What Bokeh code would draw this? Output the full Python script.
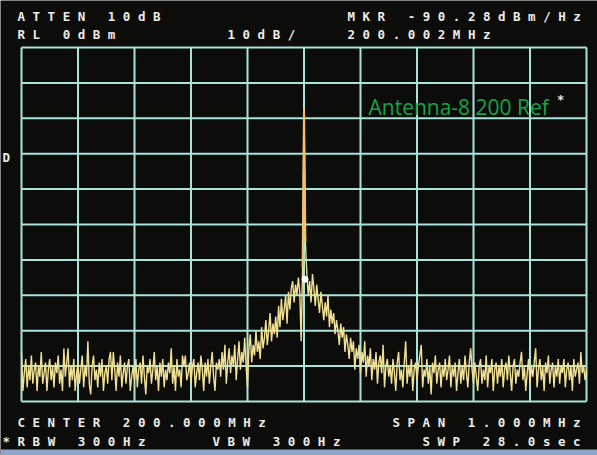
import numpy as np
from bokeh.plotting import figure
from bokeh.models import Range1d, Label
from bokeh.embed import file_html
from bokeh.resources import INLINE

# ---------------------------------------------------------------- data
# Sweep: 401 points, center 200.000 MHz, span 1.000 MHz (offsets in kHz)
center_mhz = 200.000
span_khz = 1000.0
n_points = 401
freq_khz = np.linspace(-span_khz / 2, span_khz / 2, n_points)

# Trace levels in dBm, left to right
floor_left = [
    -86, -97, -92, -88, -96, -90, -94, -87, -95, -91, -89, -97, -90, -93, -86, -95, -92, -89, -97, -91,
    -88, -94, -90, -96, -89, -92, -87, -95, -91, -97, -85, -93, -89, -85, -96, -90, -94, -88, -97, -92,
    -89, -95, -91, -87, -96, -90, -93, -83, -95, -98, -90, -87, -94, -91, -96, -89, -93, -88, -97, -92,
    -90, -95, -88, -86, -94, -86, -91, -97, -89, -93, -87, -96, -92, -89, -95, -90, -88, -97, -93, -90,
    -94, -88, -96, -91, -89, -95, -87, -93, -98, -90, -92, -88, -95, -91, -86, -94, -90, -97, -89, -93,
    -88, -96, -91, -94, -89, -92, -85, -95, -90, -97, -88, -93, -91, -96, -87, -90, -87, -94, -92, -89,
    -95, -90, -88, -96, -92, -89, -94, -87, -91, -97, -89, -93, -88, -95, -90, -86, -93, -97, -89, -91,
]
skirt_left = [
    -88, -93, -86, -91, -84, -95, -89, -85, -92, -87,
    -90, -84, -94, -88, -83, -91, -86, -89, -82, -90,
    -96, -85, -81, -89, -84, -87, -80, -86, -83, -88,
    -79, -85, -82, -77, -84, -80, -75, -83, -78, -81,
    -76, -82, -73, -79, -71, -77, -74, -70, -78, -69,
    -74, -68, -66, -72, -67, -70, -65, -69, -83, -62,
]
carrier_dbm = -17
skirt_right = [
    -55, -64, -70, -66, -72, -64, -68, -73, -67, -71,
    -75, -69, -73, -77, -72, -76, -70, -79, -74, -78,
    -75, -81, -77, -80, -84, -78, -82, -79, -86, -81,
    -84, -88, -82, -86, -83, -91, -85, -88, -84, -92,
    -86, -89, -83, -93, -87, -90, -85, -94, -88, -91,
    -86, -95, -89, -87, -92, -84, -96, -90, -88, -93,
]
floor_right = [
    -90, -95, -88, -92, -97, -89, -86, -94, -91, -96, -89, -83, -95, -90, -93, -88, -97, -91, -89, -94,
    -90, -87, -84, -96, -91, -93, -88, -95, -90, -98, -89, -92, -87, -95, -91, -89, -96, -90, -93, -88,
    -94, -91, -87, -96, -90, -93, -89, -97, -92, -88, -95, -90, -94, -87, -92, -96, -89, -85, -91, -95,
    -89, -93, -97, -90, -88, -95, -91, -94, -87, -96, -90, -92, -88, -97, -91, -89, -95, -90, -93, -88,
    -96, -91, -89, -94, -87, -92, -97, -90, -88, -95, -91, -93, -89, -86, -94, -90, -97, -92, -88, -95,
    -90, -93, -89, -85, -96, -91, -88, -94, -90, -97, -89, -92, -87, -95, -91, -89, -96, -90, -93, -88,
    -95, -90, -92, -88, -96, -91, -89, -94, -90, -97, -88, -93, -91, -89, -95, -86, -92, -90, -94, -91,
]
trace_dbm = np.array(floor_left + skirt_left + [carrier_dbm]
                     + skirt_right + floor_right, dtype=float)
assert len(trace_dbm) == n_points

# Marker
marker_khz = 2.0
marker_dbm = -65.5

# Display scale: reference level 0 dBm, 10 dB/div, 10 x 10 divisions
ref_level = 0.0
db_per_div = 10.0
n_div = 10
freq_divs = np.linspace(-span_khz / 2, span_khz / 2, n_div + 1)
level_divs = ref_level - db_per_div * np.arange(n_div + 1)

# Instrument readouts, placed on a character grid
readouts = [
    # (column, row_y_px, text)
    (0, 15.5, "ATTEN 10dB"),
    (22, 15.5, "MKR -90.28dBm/Hz"),
    (0, 34, "RL 0dBm"),
    (14, 34, "10dB/"),
    (22, 34, "200.002MHz"),
    (-1, 157, "D"),
    (0, 422, "CENTER 200.000MHz"),
    (25, 422, "SPAN 1.000MHz"),
    (-1, 441, "*RBW 300Hz"),
    (13, 441, "VBW 300Hz"),
    (27, 441, "SWP 28.0sec"),
]
title_text = "Antenna-8 200 Ref"

# ---------------------------------------------------------------- layout
W, H = 597, 455
GX0, GX1 = 21, 586      # graticule left/right (px)
GY0, GY1 = 47, 401      # graticule top/bottom (px)
COL0, PITCH = 17, 15    # readout character grid (px)

kx = span_khz / (GX1 - GX0)
ky = db_per_div * n_div / (GY1 - GY0)
x_start = -span_khz / 2 - GX0 * kx
x_end = span_khz / 2 + (W - GX1) * kx
y_end = ref_level + GY0 * ky
y_start = ref_level - db_per_div * n_div - (H - GY1) * ky


def to_data(xp, yp):
    return (-span_khz / 2 + (xp - GX0) * kx, ref_level - (yp - GY0) * ky)


BG = "#0c0c0b"
GRID = "#a9e3db"
TRACE = "#efe093"
CARRIER = "#f4c05c"
TXT = "#ecebe6"

p = figure(width=W, height=H, output_backend="svg", toolbar_location=None,
           x_range=Range1d(x_start, x_end), y_range=Range1d(y_start, y_end),
           x_axis_type=None, y_axis_type=None, min_border=0,
           background_fill_color=BG, border_fill_color=BG,
           outline_line_color=None)
p.grid.visible = False

# bezel strip at the bottom edge
bx0, by0 = to_data(0, 449)
bx1, by1 = to_data(W, H)
p.quad(left=bx0, right=bx1, top=by0, bottom=by1, fill_color="#8ea4c2",
       line_color=None)

# graticule
bottom = ref_level - db_per_div * n_div
p.segment(x0=freq_divs, y0=[bottom] * len(freq_divs), x1=freq_divs,
          y1=[ref_level] * len(freq_divs), line_color=GRID, line_width=2)
p.segment(x0=[-span_khz / 2] * len(level_divs), y0=level_divs,
          x1=[span_khz / 2] * len(level_divs), y1=level_divs,
          line_color=GRID, line_width=2)

# trace
p.line(freq_khz, trace_dbm, line_color=TRACE, line_width=1.4)
mid = n_points // 2
p.line(freq_khz[mid - 1:mid + 2], trace_dbm[mid - 1:mid + 2],
       line_color=CARRIER, line_width=2)

# marker
p.scatter([marker_khz], [marker_dbm], size=6, fill_color="#ffffff",
          line_color="#ffffff")

# readouts
NBSP = "\u00a0"
for col, yp, txt in readouts:
    spaced = NBSP.join(ch if ch != " " else NBSP for ch in txt)
    x, y = to_data(COL0 + col * PITCH, yp)
    p.add_layout(Label(x=x, y=y, text=spaced, text_font="DejaVu Sans Mono",
                       text_font_style="bold", text_font_size="12.5px",
                       text_color=TXT, text_baseline="middle",
                       text_align="left"))

# trace title
tx, ty = to_data(368, 106)
p.add_layout(Label(x=tx, y=ty, text=title_text, text_font="Open Sans",
                   text_font_size="21px", text_color="#14a646",
                   text_baseline="alphabetic", text_align="left"))
ax, ay = to_data(560, 99)
p.add_layout(Label(x=ax, y=ay, text="*", text_font="DejaVu Sans Mono",
                   text_font_style="bold", text_font_size="12px",
                   text_color=TXT, text_baseline="middle", text_align="center"))

open("out.html", "w").write(file_html(p, INLINE))
